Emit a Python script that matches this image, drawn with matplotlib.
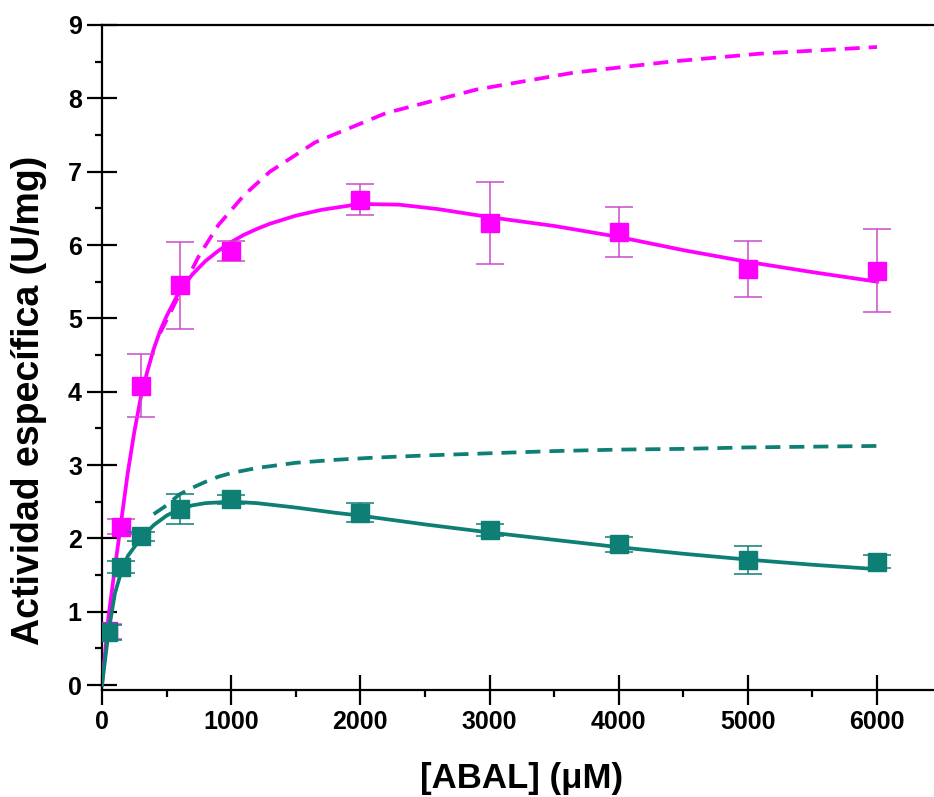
import matplotlib
matplotlib.use("Agg")
import matplotlib.pyplot as plt
from matplotlib.ticker import MultipleLocator

plt.rcParams['font.family'] = ['Liberation Sans', 'DejaVu Sans']

# datos experimentales
conc = [50, 150, 300, 600, 1000, 2000, 3000, 4000, 5000, 6000]
act_mag = [0.73, 2.16, 4.08, 5.45, 5.92, 6.62, 6.30, 6.18, 5.67, 5.65]
err_mag = [0.10, 0.10, 0.43, 0.59, 0.14, 0.21, 0.56, 0.34, 0.38, 0.57]
act_teal = [0.72, 1.61, 2.03, 2.40, 2.53, 2.35, 2.11, 1.92, 1.70, 1.68]
err_teal = [0.10, 0.08, 0.06, 0.20, 0.06, 0.13, 0.08, 0.10, 0.19, 0.09]

# curvas de ajuste (con inhibicion)
fit_x_mag = [0, 50, 100, 150, 200, 250, 300, 350, 400, 450, 500, 600, 700, 800,
             900, 1000, 1100, 1200, 1300, 1500, 1700, 2000, 2300, 2600, 3000,
             3500, 4000, 4500, 5000, 5500, 6000]
fit_y_mag = [0, 0.93, 1.60, 2.25, 2.90, 3.45, 3.92, 4.27, 4.58, 4.83, 5.03, 5.37,
             5.60, 5.78, 5.92, 6.04, 6.14, 6.22, 6.29, 6.40, 6.48, 6.56, 6.55,
             6.49, 6.38, 6.26, 6.11, 5.93, 5.77, 5.63, 5.50]
fit_x_teal = [0, 50, 100, 150, 200, 300, 400, 500, 600, 700, 800, 1000, 1200,
              1500, 1800, 2000, 2500, 3000, 3500, 4000, 4500, 5000, 5500, 6000]
fit_y_teal = [0, 0.72, 1.25, 1.55, 1.76, 2.00, 2.18, 2.31, 2.40, 2.45, 2.48, 2.50,
              2.48, 2.42, 2.35, 2.31, 2.19, 2.08, 1.98, 1.88, 1.79, 1.71, 1.64, 1.58]

# curvas sin inhibicion (Michaelis-Menten), discontinuas
mm_x_mag = [450, 600, 750, 900, 1100, 1300, 1650, 2200, 2900, 3650, 4400, 5100, 6000]
mm_y_mag = [4.80, 5.33, 5.85, 6.27, 6.68, 7.00, 7.40, 7.80, 8.12, 8.35, 8.50, 8.61, 8.70]
mm_x_teal = [400, 500, 600, 700, 800, 900, 1000, 1200, 1500, 1800, 2100, 2500,
             3000, 3500, 4000, 4500, 5000, 5500, 6000]
mm_y_teal = [2.33, 2.45, 2.60, 2.69, 2.77, 2.84, 2.89, 2.96, 3.03, 3.07, 3.10, 3.13,
             3.16, 3.19, 3.21, 3.22, 3.24, 3.25, 3.26]

magenta = '#FF00FF'
teal = '#0E7F74'

fig = plt.figure(figsize=(9.34, 7.97), dpi=100)
ax = fig.add_axes([102 / 934, 107 / 797, 6500 * 0.12917 / 934, 665 / 797])

ax.plot(mm_x_mag, mm_y_mag, color=magenta, lw=2.7, dashes=(4, 2.4), zorder=2)
ax.plot(fit_x_mag, fit_y_mag, color=magenta, lw=2.7, zorder=3)
ax.errorbar(conc, act_mag, yerr=err_mag, fmt='s', color=magenta, ms=13,
            ecolor='#C94BC9', elinewidth=1.1, capsize=10, capthick=1.1, zorder=4)

ax.plot(mm_x_teal, mm_y_teal, color=teal, lw=2.7, dashes=(4, 2.4), zorder=5)
ax.plot(fit_x_teal, fit_y_teal, color=teal, lw=2.7, zorder=6)
ax.errorbar(conc, act_teal, yerr=err_teal, fmt='s', color=teal, ms=13,
            ecolor=teal, elinewidth=1.1, capsize=10, capthick=1.1, zorder=7)

ax.set_xlim(0, 6500)
ax.set_ylim(-0.068, 9)
ax.xaxis.set_major_locator(MultipleLocator(1000))
ax.xaxis.set_minor_locator(MultipleLocator(500))
ax.yaxis.set_major_locator(MultipleLocator(1))
ax.yaxis.set_minor_locator(MultipleLocator(0.5))

ax.spines['right'].set_visible(False)
for s in ['left', 'bottom', 'top']:
    ax.spines[s].set_linewidth(1.6)
ax.tick_params(which='major', direction='inout', length=21, width=1.6,
               labelsize=18, pad=4)
ax.tick_params(which='minor', direction='out', length=5, width=1.6)
ax.tick_params(top=False, right=False, which='both')
for lab in ax.get_xticklabels() + ax.get_yticklabels():
    lab.set_fontweight('bold')

ax.set_xlabel('[ABAL] (\u03bcM)', fontsize=25, fontweight='bold')
ax.set_ylabel('Actividad espec\u00edfica (U/mg)', fontsize=27, fontweight='bold')
ax.xaxis.set_label_coords(0.5, -0.108)
ax.yaxis.set_label_coords(-0.066, 0.436)

fig.savefig('out.png', dpi=100)
